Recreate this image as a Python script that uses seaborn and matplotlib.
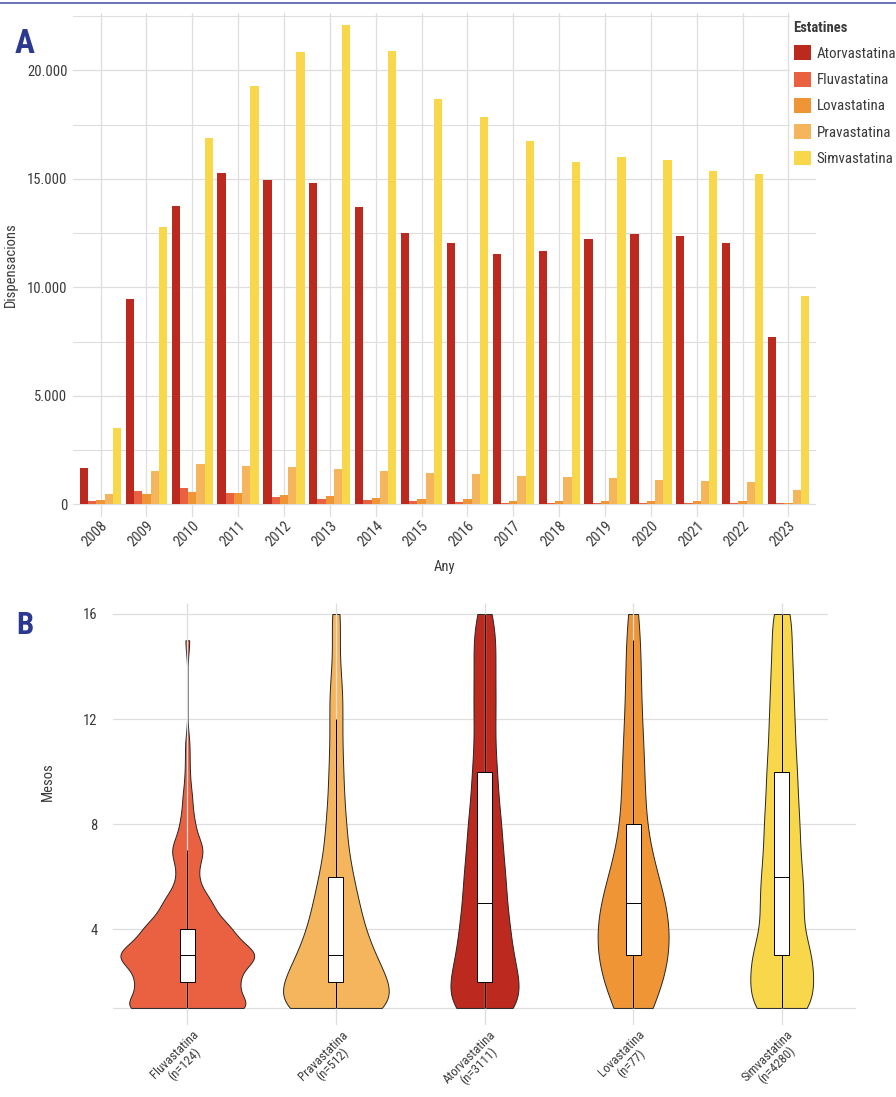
import numpy as np
import pandas as pd
import matplotlib
matplotlib.use("Agg")
import matplotlib.pyplot as plt
from matplotlib.patches import Patch, Rectangle
from matplotlib.lines import Line2D
from matplotlib.ticker import FixedLocator, FuncFormatter
from matplotlib.transforms import ScaledTranslation, blended_transform_factory
import seaborn as sns

# ---------------- Panel A: annual dispensations per statin ----------------
years = list(range(2008, 2024))
statins = ["Atorvastatina", "Fluvastatina", "Lovastatina", "Pravastatina", "Simvastatina"]

atorvastatina = [1680, 9470, 13760, 15280, 14950, 14820, 13710, 12510,
                 12050, 11540, 11680, 12230, 12470, 12370, 12050, 7720]
fluvastatina = [160, 620, 760, 530, 350, 250, 210, 160,
                115, 70, 70, 70, 70, 70, 70, 45]
lovastatina = [210, 480, 580, 530, 440, 390, 300, 250,
               250, 160, 160, 160, 160, 160, 160, 45]
pravastatina = [480, 1540, 1870, 1770, 1730, 1640, 1540, 1450,
                1410, 1310, 1270, 1220, 1130, 1080, 1040, 670]
simvastatina = [3530, 12790, 16890, 19290, 20850, 22100, 20900, 18690,
                17860, 16750, 15780, 16010, 15870, 15370, 15230, 9610]

# ---------------- Panel B: months of treatment (counts per month) ----------------
months = list(range(1, 17))
violin_order = ["Fluvastatina", "Pravastatina", "Atorvastatina", "Lovastatina", "Simvastatina"]
fluva_counts = [27, 20, 30, 18, 10, 4, 7, 3, 2, 1, 1, 0, 0, 0, 1, 0]
prava_counts = [110, 92, 68, 50, 40, 30, 21, 18, 14, 13, 11, 11, 12, 7, 6, 9]
atorva_counts = [405, 376, 296, 271, 231, 224, 190, 180, 142, 135, 108, 115, 117, 110, 123, 88]
lova_counts = [6, 9, 10, 10, 10, 6, 4, 3, 3, 3, 3, 2, 2, 2, 2, 2]
simva_counts = [472, 459, 451, 298, 322, 303, 263, 261, 231, 224, 195, 186, 170, 158, 139, 148]

# ---------------- styling ----------------
palette = {
    "Atorvastatina": "#BC2A1F",
    "Fluvastatina": "#EA6142",
    "Lovastatina": "#F09536",
    "Pravastatina": "#F4B55C",
    "Simvastatina": "#F8D84A",
}
GRID = "#DEDEDE"
TXT = "#3A3A3A"
NAVY = "#2B3990"

sns.set_theme(style="white")
plt.rcParams["font.family"] = ["Liberation Sans Narrow", "Roboto Condensed", "DejaVu Sans"]
plt.rcParams["text.color"] = TXT
plt.rcParams["axes.labelcolor"] = TXT

W, H = 896, 1097
fig = plt.figure(figsize=(W / 100, H / 100), dpi=100)
fig.patch.set_facecolor("white")


def frame(l, t, r, b):
    return [l / W, 1 - b / H, (r - l) / W, (b - t) / H]


axA = fig.add_axes(frame(73, 12.7, 816, 517))
axB = fig.add_axes(frame(113, 602.7, 856, 1025))

# ---- Panel A bars ----
series = {
    "Atorvastatina": atorvastatina,
    "Fluvastatina": fluvastatina,
    "Lovastatina": lovastatina,
    "Pravastatina": pravastatina,
    "Simvastatina": simvastatina,
}
df_a = pd.DataFrame(
    [(str(y), s, v) for s, vals in series.items() for y, v in zip(years, vals)],
    columns=["Any", "Estatina", "Dispensacions"],
)
sns.barplot(data=df_a, x="Any", y="Dispensacions", hue="Estatina",
            order=[str(y) for y in years], hue_order=statins, palette=palette,
            width=0.9, gap=0, saturation=1, errorbar=None, legend=False,
            linewidth=0, ax=axA)

axA.set_xlim(-0.6, 15.6)
axA.set_ylim(-580, 22660)
axA.yaxis.set_major_locator(FixedLocator([0, 5000, 10000, 15000, 20000]))
axA.yaxis.set_minor_locator(FixedLocator([2500, 7500, 12500, 17500, 22500]))
axA.yaxis.set_major_formatter(FuncFormatter(lambda v, p: f"{int(v):,}".replace(",", ".")))
axA.set_axisbelow(True)
axA.grid(True, which="major", axis="both", color=GRID, lw=0.9)
axA.grid(True, which="minor", axis="y", color=GRID, lw=0.8)
for s in axA.spines.values():
    s.set_visible(False)
axA.tick_params(axis="both", which="both", length=0, labelsize=10.5, colors=TXT)
axA.tick_params(axis="y", pad=4)
axA.tick_params(axis="x", pad=1)
for lbl in axA.get_xticklabels():
    lbl.set_rotation(45)
    lbl.set_ha("right")
    lbl.set_va("top")
    lbl.set_rotation_mode("anchor")
axA.set_ylabel("Dispensacions", fontsize=10.5)
axA.set_xlabel("Any", fontsize=10.5)
axA.yaxis.set_label_coords((18 - 73) / (816 - 73), 0.5)
axA.xaxis.label.set_va("center")
axA.xaxis.set_label_coords(0.5, -(567 - 517) / (517 - 12.7))

# ---- Panel B violins + boxplots ----
count_table = {
    "Fluvastatina": fluva_counts,
    "Pravastatina": prava_counts,
    "Atorvastatina": atorva_counts,
    "Lovastatina": lova_counts,
    "Simvastatina": simva_counts,
}
group_label = {s: f"{s}\n(n={sum(c)})" for s, c in count_table.items()}
df_b = pd.DataFrame({
    "grup": np.concatenate([[group_label[s]] * sum(c) for s, c in count_table.items()]),
    "Mesos": np.concatenate([np.repeat(months, c) for c in count_table.values()]),
})
order_b = [group_label[s] for s in violin_order]
pal_b = {group_label[s]: palette[s] for s in violin_order}


def nrd0(kde):
    """Silverman's rule of thumb (R's bw.nrd0) expressed as a scipy factor."""
    x = np.asarray(kde.dataset).ravel()
    sd = x.std(ddof=1)
    q75, q25 = np.percentile(x, [75, 25])
    lo = min(sd, (q75 - q25) / 1.34)
    return 0.9 * lo * len(x) ** -0.2 / sd


sns.violinplot(data=df_b, x="grup", y="Mesos", hue="grup", order=order_b,
               hue_order=order_b, palette=pal_b, legend=False, cut=0,
               bw_method=nrd0, density_norm="area", common_norm=True,
               width=0.9, inner=None, linecolor="#262626", linewidth=0.7,
               saturation=1, gridsize=512, ax=axB)

axB.set_xlim(-0.44, 4.57)
axB.set_ylim(0.35, 16.43)
axB.set_axisbelow(True)
axB.yaxis.set_major_locator(FixedLocator([4, 8, 12, 16]))
axB.grid(True, axis="y", color=GRID, lw=0.9)
axB.grid(False, axis="x")
axB.axhline(1, color=GRID, lw=0.9, zorder=0.5)
axB.vlines(range(len(order_b)), 0.35, 16.43, color=GRID, lw=0.9, zorder=1.5)

sns.boxplot(data=df_b, x="grup", y="Mesos", order=order_b, width=0.1,
            color="white", linecolor="black", linewidth=0.7, showfliers=False,
            showcaps=False, whis=1.5, saturation=1, ax=axB, zorder=3)

for s in axB.spines.values():
    s.set_visible(False)
axB.tick_params(axis="both", length=0, labelsize=10.5, colors=TXT)
axB.tick_params(axis="y", pad=11)
axB.set_xticks(range(len(order_b)))
axB.set_xticklabels([])
axB.set_xlabel("")
axB.set_ylabel("Mesos", fontsize=10.5)
axB.yaxis.set_label_coords((55 - 113) / (856 - 113), (1025 - 782) / (1025 - 602.7))

lab_tr = blended_transform_factory(axB.transData, axB.transAxes) + \
    ScaledTranslation(5 / 100, -3 / 100, fig.dpi_scale_trans)
for i, lab in enumerate(order_b):
    axB.text(i, 0, lab, transform=lab_tr, rotation=45, ha="right", va="top",
             rotation_mode="anchor", multialignment="center", fontsize=9.3,
             color=TXT, linespacing=1.0)

# ---- legend (panel A) ----
fig.add_artist(Rectangle((790 / W, 1 - 150 / H), 106 / W, 140 / H,
                         transform=fig.transFigure, facecolor="white",
                         edgecolor="none", zorder=2))
fig.add_artist(Rectangle((828 / W, 1 - 770 / H), 68 / W, 172 / H,
                         transform=fig.transFigure, facecolor="white",
                         edgecolor="none", zorder=2))
handles = [Patch(facecolor=palette[s], edgecolor="none") for s in statins]
fig.legend(handles, statins, title="Estatines", loc="upper left",
           bbox_to_anchor=(789 / W, 1 - 16 / H), frameon=False, fontsize=10.8,
           title_fontproperties={"weight": "bold", "size": 10.5},
           handlelength=1.15, handleheight=1.15, handletextpad=0.4,
           labelspacing=0.72, borderpad=0.3, borderaxespad=0,
           alignment="left")

# ---- panel letters and top rule ----
fig.text(15 / W, 1 - 53 / H, "A", fontsize=24, fontweight="bold", color=NAVY,
         ha="left", va="baseline")
fig.text(16 / W, 1 - 634 / H, "B", fontsize=22, fontweight="bold", color=NAVY,
         ha="left", va="baseline")
fig.add_artist(Line2D([0, 1], [1 - 2.5 / H, 1 - 2.5 / H], transform=fig.transFigure,
                      color="#4A5AA8", lw=1.2))

fig.savefig("out.png", dpi=100, facecolor="white")
